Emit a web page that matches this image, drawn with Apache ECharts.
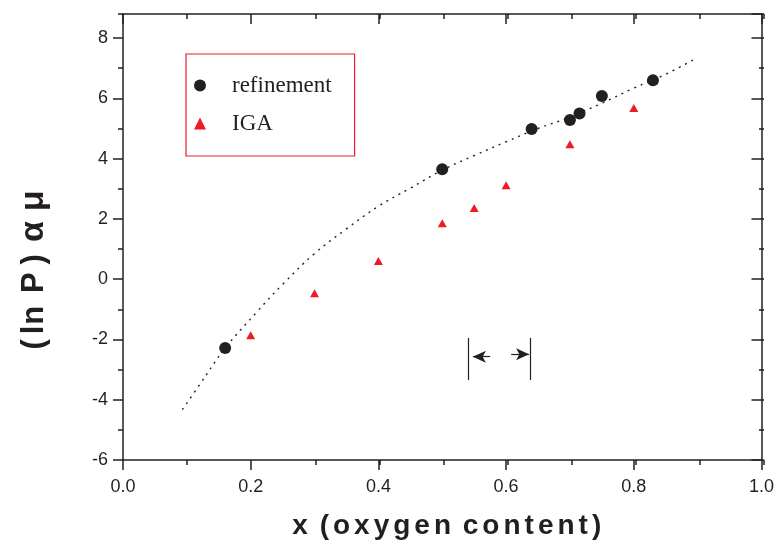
<!DOCTYPE html>
<html>
<head>
<meta charset="utf-8">
<script src="https://cdn.jsdelivr.net/npm/echarts@6/dist/echarts.min.js"></script>
<style>
  html, body { margin: 0; padding: 0; background: #fff; }
  #chart { width: 777px; height: 548px; }
</style>
</head>
<body>
<div id="chart"></div>
<script>
// refinement points (black circles)
const refX = [0.16, 0.50, 0.64, 0.70, 0.715, 0.75, 0.83];
const refY = [-2.28, 3.65, 4.98, 5.28, 5.50, 6.08, 6.60];

// IGA points (red triangles)
const igaX = [0.20, 0.30, 0.40, 0.50, 0.55, 0.60, 0.70, 0.80];
const igaY = [-1.86, -0.47, 0.60, 1.86, 2.36, 3.12, 4.48, 5.68];

// dotted guide curve
const fitX = [0.093, 0.12, 0.16, 0.21, 0.25, 0.30, 0.35, 0.40, 0.45, 0.50, 0.55, 0.60, 0.65, 0.70, 0.75, 0.80, 0.85, 0.895];
const fitY = [-4.33, -3.50, -2.29, -1.08, -0.17, 0.85, 1.67, 2.42, 3.02, 3.62, 4.10, 4.56, 5.00, 5.38, 5.84, 6.34, 6.80, 7.30];

// the two bars and arrows (data coordinates)
const barX = [0.541, 0.638];
const barY = [-1.95, -3.35];
const arrowLeft = [[0.575, -2.57], [0.548, -2.57]];
const arrowRight = [[0.608, -2.49], [0.636, -2.49]];

const xMin = 0, xMax = 1, yMin = -6, yMax = 8.8;

const ink = '#231f20';
const red = '#ed1c24';

const zip = (a, b) => a.map((v, i) => [v, b[i]]);

// letter-spaced rich text: first char plain, the rest with a left gap
function spaced(str) {
  return str.split('').map((ch, i) => {
    if (ch === ' ') return '{w|\u00a0}';
    if (i === 0 || str[i - 1] === ' ') return '{s|' + ch + '}';
    return '{c|' + ch + '}';
  }).join('');
}

const gridBox = { left: 123, right: 13, top: 14, bottom: 88 };

const hidden = { show: false };

function xAx(gridIndex, position, tickLen, inside, interval, extra) {
  return Object.assign({
    type: 'value', gridIndex: gridIndex, position: position,
    min: xMin, max: xMax, interval: interval,
    axisLine: { show: gridIndex === 0, onZero: false, lineStyle: { color: ink, width: 1.5 } },
    axisTick: { show: true, inside: inside, length: tickLen, lineStyle: { color: ink, width: 1.5 } },
    axisLabel: hidden,
    splitLine: hidden
  }, extra || {});
}

function yAx(gridIndex, position, tickLen, inside, interval, extra) {
  return Object.assign({
    type: 'value', gridIndex: gridIndex, position: position,
    min: yMin, max: yMax, interval: interval,
    axisLine: { show: gridIndex === 0, onZero: false, lineStyle: { color: ink, width: 1.5 } },
    axisTick: { show: true, inside: inside, length: tickLen, lineStyle: { color: ink, width: 1.5 } },
    axisLabel: hidden,
    splitLine: hidden
  }, extra || {});
}

const tickFont = { color: ink, fontFamily: 'Liberation Sans', fontSize: 18 };

const boldFont = { color: ink, fontFamily: 'Liberation Sans', fontWeight: 'bold' };
const pad = n => ({ padding: [0, 0, 0, n] });

const xTitleRich = {
  s: Object.assign({ fontSize: 28 }, boldFont),
  w: Object.assign({ fontSize: 28 }, boldFont, pad(4)),
  c: Object.assign({ fontSize: 28 }, boldFont, pad(4))
};

const yTitle = '{b|(}{b5|l}{b1|n}{b4|\u00a0}{b|P}{b8|)}{g12|α}{g10|μ}';
const yTitleRich = {
  b: Object.assign({ fontSize: 31 }, boldFont),
  b1: Object.assign({ fontSize: 31 }, boldFont, pad(1)),
  b4: Object.assign({ fontSize: 31 }, boldFont, pad(4)),
  b5: Object.assign({ fontSize: 31 }, boldFont, pad(5)),
  b8: Object.assign({ fontSize: 31 }, boldFont, pad(8)),
  g12: Object.assign({ fontSize: 34 }, boldFont, pad(12)),
  g10: Object.assign({ fontSize: 34 }, boldFont, pad(10))
};

const chart = echarts.init(document.getElementById('chart'));

chart.setOption({
  animation: false,
  backgroundColor: '#fff',
  grid: [
    Object.assign({}, gridBox),
    Object.assign({}, gridBox)
  ],
  legend: {
    left: 186,
    top: 54,
    orient: 'vertical',
    itemWidth: 12,
    itemHeight: 12,
    itemGap: 15,
    padding: [20, 23, 21, 8],
    borderColor: red,
    borderWidth: 1.2,
    textStyle: {
      color: ink, fontFamily: 'Liberation Serif', fontSize: 23,
      width: 100, padding: [0, 0, 0, 21]
    },
    data: [
      { name: 'refinement', icon: 'circle' },
      { name: 'IGA', icon: 'triangle' }
    ]
  },
  xAxis: [
    xAx(0, 'bottom', 10, false, 0.2, {
      axisLabel: Object.assign({ show: true, margin: 18,
        formatter: v => v.toFixed(1) }, tickFont),
      name: spaced('x (oxygen content)'),
      nameLocation: 'middle',
      nameGap: 52,
      nameTextStyle: { color: ink, padding: [0, 0, 0, 9], rich: xTitleRich }
    }),
    xAx(0, 'top', 10, true, 0.2),
    xAx(1, 'bottom', 5, false, 0.1),
    xAx(1, 'top', 5, true, 0.1)
  ],
  yAxis: [
    yAx(0, 'left', 10, false, 2, {
      axisLabel: Object.assign({ show: true, margin: 15, showMaxLabel: false }, tickFont),
      name: yTitle,
      nameLocation: 'middle',
      nameRotate: 90,
      nameGap: 72,
      nameTextStyle: { color: ink, padding: [0, 66, 0, 0], rich: yTitleRich }
    }),
    yAx(0, 'right', 10, true, 2),
    yAx(1, 'left', 5, false, 1),
    yAx(1, 'right', 5, true, 1)
  ],
  series: [
    {
      name: 'fit',
      type: 'line',
      xAxisIndex: 0, yAxisIndex: 0,
      data: zip(fitX, fitY),
      smooth: 0.4,
      showSymbol: false,
      silent: true,
      lineStyle: { color: ink, width: 1.4, type: [2, 5] },
      markLine: {
        silent: true,
        symbol: 'none',
        label: { show: false },
        lineStyle: { color: ink, width: 1.2, type: 'solid' },
        data: [
          [{ coord: [barX[0], barY[0]] }, { coord: [barX[0], barY[1]] }],
          [{ coord: [barX[1], barY[0]] }, { coord: [barX[1], barY[1]] }],
          [{ coord: arrowLeft[0] }, { coord: arrowLeft[1], symbol: 'arrow', symbolSize: [9, 13] }],
          [{ coord: arrowRight[0] }, { coord: arrowRight[1], symbol: 'arrow', symbolSize: [9, 13] }]
        ]
      }
    },
    {
      name: 'refinement',
      type: 'scatter',
      xAxisIndex: 0, yAxisIndex: 0,
      data: zip(refX, refY),
      symbol: 'circle',
      symbolSize: 12,
      itemStyle: { color: ink, opacity: 1 },
      z: 4
    },
    {
      name: 'IGA',
      type: 'scatter',
      xAxisIndex: 0, yAxisIndex: 0,
      data: zip(igaX, igaY),
      symbol: 'triangle',
      symbolSize: [9, 8],
      itemStyle: { color: red, opacity: 1 },
      z: 4
    }
  ]
});
</script>
</body>
</html>
